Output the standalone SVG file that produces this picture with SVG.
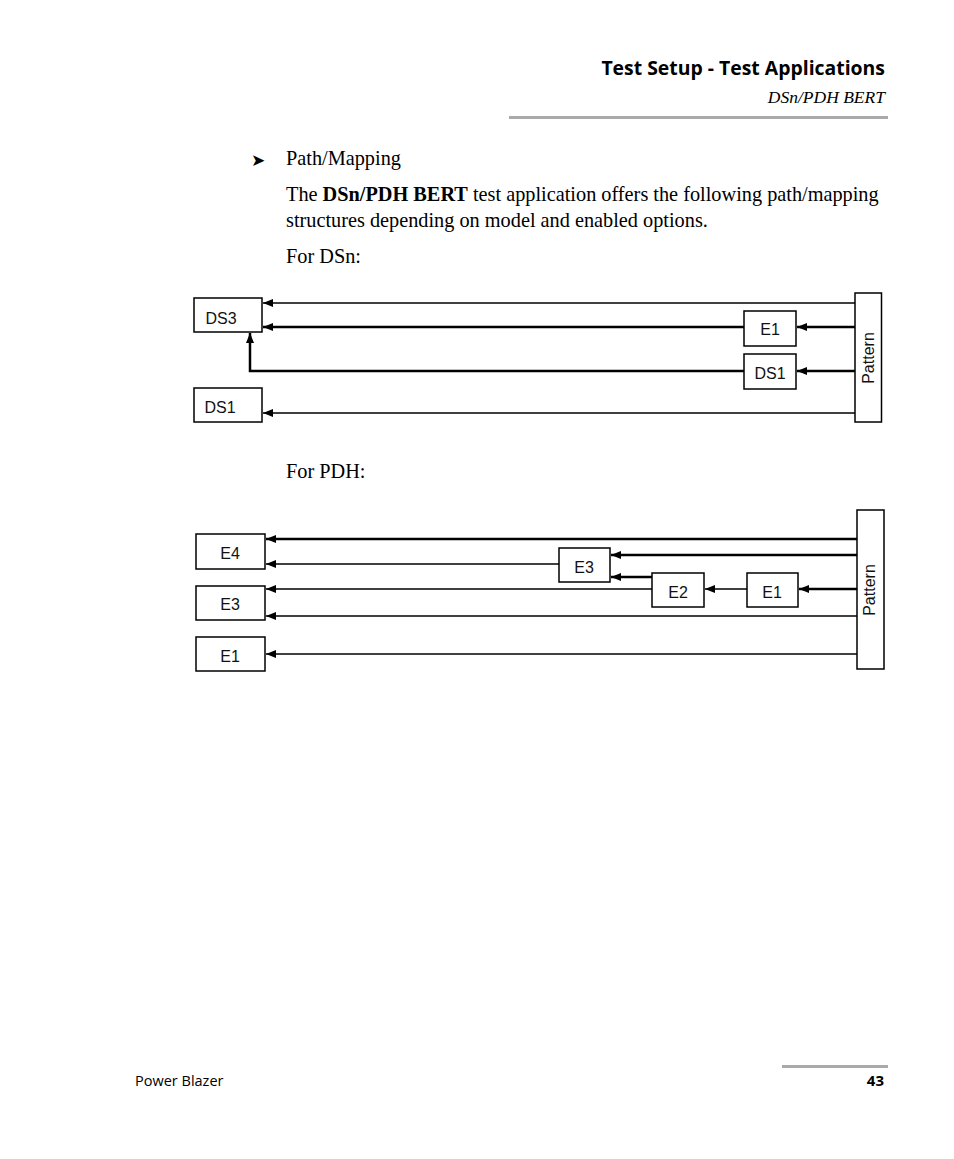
<svg xmlns="http://www.w3.org/2000/svg" width="954" height="1159" viewBox="0 0 954 1159">
<style>
.box{fill:#fff;stroke:#000;stroke-width:1.5}
.lbl{font-family:"Liberation Sans",Arial,sans-serif;font-size:16px;fill:#111;text-anchor:middle}
.thk{fill:none;stroke:#000;stroke-width:2.5}
.thn{fill:none;stroke:#000;stroke-width:1.5}
.body{font-family:"Liberation Serif","Times New Roman",serif;font-size:20.3px;fill:#000}
.sans{font-family:"Open Sans","Noto Sans","DejaVu Sans",sans-serif}
</style>
<defs>
<marker id="ah" markerWidth="10" markerHeight="8" refX="10" refY="4" orient="auto" markerUnits="userSpaceOnUse">
<path d="M0,0 L10,4 L0,8 z" fill="#000"/>
</marker>
</defs>
<rect width="954" height="1159" fill="#fff"/>
<g id="header">
<text x="885" y="75" text-anchor="end" class="sans" font-weight="bold" font-size="19.4" fill="#000">Test Setup - Test Applications</text>
<text x="885" y="103" text-anchor="end" font-family="Liberation Serif,serif" font-style="italic" font-size="17.5" fill="#000">DSn/PDH BERT</text>
<rect x="509" y="116" width="379" height="3" fill="#aaa"/>
</g>
<g id="body">
<text x="251" y="166" font-family="DejaVu Sans,sans-serif" font-size="17" fill="#000">➤</text>
<text x="286" y="165" class="body">Path/Mapping</text>
<text x="286" y="201" class="body">The <tspan font-weight="bold">DSn/PDH BERT</tspan> test application offers the following path/mapping</text>
<text x="286" y="227" class="body">structures depending on model and enabled options.</text>
<text x="286" y="263" class="body">For DSn:</text>
<text x="286" y="478" class="body">For PDH:</text>
</g>
<g id="dsn-ds3"><rect class="box" x="194" y="298" width="68" height="34"/><text class="lbl" x="221" y="324">DS3</text></g>
<g id="dsn-ds1"><rect class="box" x="194" y="388" width="68" height="34"/><text class="lbl" x="220" y="413">DS1</text></g>
<g id="dsn-e1"><rect class="box" x="744" y="311" width="52" height="35"/><text class="lbl" x="770" y="335">E1</text></g>
<g id="dsn-ds1b"><rect class="box" x="744" y="354" width="52" height="35"/><text class="lbl" x="770" y="379">DS1</text></g>
<g id="dsn-pattern"><rect class="box" x="855" y="293" width="26.5" height="129"/><text class="lbl" x="0" y="0" transform="translate(874,358) rotate(-90)">Pattern</text></g>
<g id="pdh-e4"><rect class="box" x="196" y="534" width="69" height="35"/><text class="lbl" x="230" y="559">E4</text></g>
<g id="pdh-e3"><rect class="box" x="196" y="586" width="69" height="34"/><text class="lbl" x="230" y="610">E3</text></g>
<g id="pdh-e1"><rect class="box" x="196" y="637" width="69" height="34"/><text class="lbl" x="230" y="662">E1</text></g>
<g id="pdh-e3b"><rect class="box" x="559" y="548" width="51" height="34"/><text class="lbl" x="584" y="573">E3</text></g>
<g id="pdh-e2"><rect class="box" x="652" y="573" width="52" height="34"/><text class="lbl" x="678" y="598">E2</text></g>
<g id="pdh-e1b"><rect class="box" x="747" y="573" width="51" height="34"/><text class="lbl" x="772" y="598">E1</text></g>
<g id="pdh-pattern"><rect class="box" x="857" y="510" width="27" height="159"/><text class="lbl" x="0" y="0" transform="translate(875,590) rotate(-90)">Pattern</text></g>
<g id="connectors">
<!-- DSn -->
<line class="thn" x1="855" y1="303" x2="263" y2="303" marker-end="url(#ah)"/>
<line class="thk" x1="744" y1="327" x2="263" y2="327" marker-end="url(#ah)"/>
<polyline class="thk" points="744,371 250,371 250,333" marker-end="url(#ah)"/>
<line class="thn" x1="855" y1="413" x2="263" y2="413" marker-end="url(#ah)"/>
<line class="thk" x1="855" y1="327" x2="797" y2="327" marker-end="url(#ah)"/>
<line class="thk" x1="855" y1="371" x2="797" y2="371" marker-end="url(#ah)"/>
<!-- PDH -->
<line class="thk" x1="857" y1="539" x2="266" y2="539" marker-end="url(#ah)"/>
<line class="thn" x1="559" y1="564" x2="266" y2="564" marker-end="url(#ah)"/>
<line class="thk" x1="857" y1="555" x2="611" y2="555" marker-end="url(#ah)"/>
<line class="thk" x1="652" y1="577" x2="611" y2="577" marker-end="url(#ah)"/>
<line class="thn" x1="652" y1="589" x2="266" y2="589" marker-end="url(#ah)"/>
<line class="thn" x1="747" y1="589" x2="705" y2="589" marker-end="url(#ah)"/>
<line class="thk" x1="857" y1="589" x2="799" y2="589" marker-end="url(#ah)"/>
<line class="thn" x1="857" y1="616" x2="266" y2="616" marker-end="url(#ah)"/>
<line class="thn" x1="857" y1="654" x2="266" y2="654" marker-end="url(#ah)"/>
</g>
<g id="footer">
<rect x="782" y="1065" width="106" height="3" fill="#aaa"/>
<text x="135" y="1086" class="sans" font-size="14.5" fill="#000">Power Blazer</text>
<text x="884" y="1086" text-anchor="end" class="sans" font-weight="bold" font-size="15" fill="#000">43</text>
</g>
</svg>
